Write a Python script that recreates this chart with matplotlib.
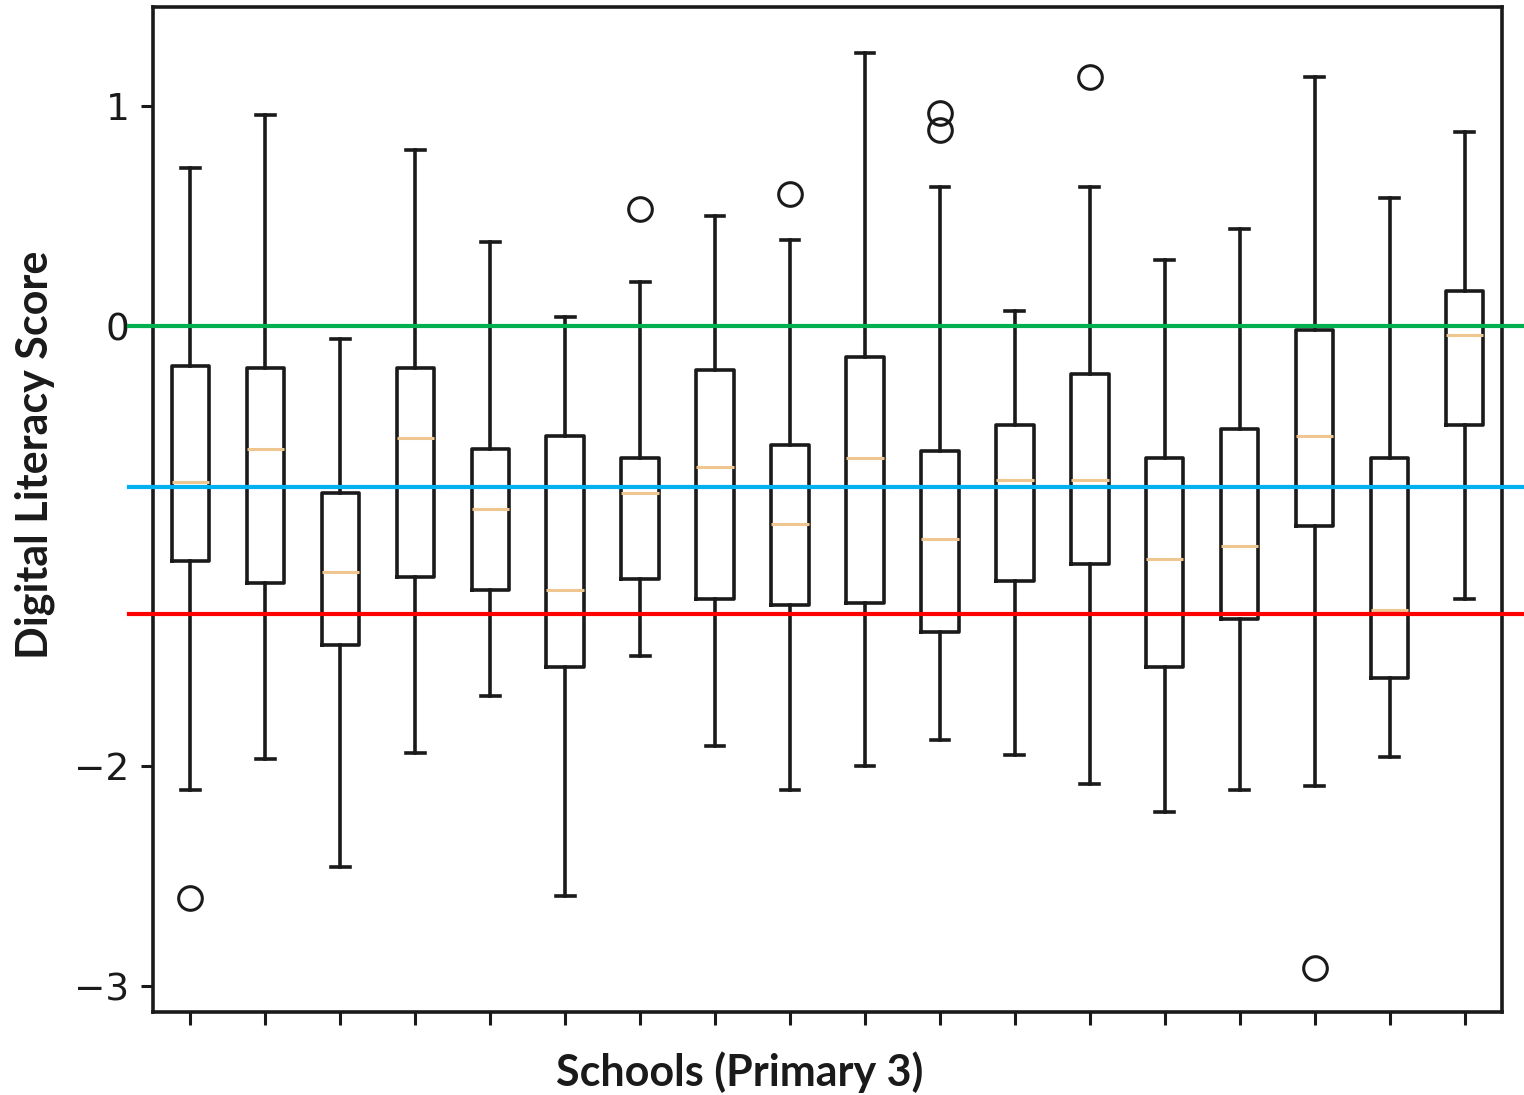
import matplotlib
matplotlib.use("Agg")
import matplotlib.pyplot as plt

schools = list(range(1, 19))
whislo = [-2.11, -1.97, -2.46, -1.94, -1.68, -2.59, -1.50, -1.91, -2.11, -2.00,
          -1.88, -1.95, -2.08, -2.21, -2.11, -2.09, -1.96, -1.24]
q1 = [-1.07, -1.17, -1.45, -1.14, -1.20, -1.55, -1.15, -1.24, -1.27, -1.26,
      -1.39, -1.16, -1.08, -1.55, -1.33, -0.91, -1.60, -0.45]
med = [-0.71, -0.56, -1.12, -0.51, -0.83, -1.20, -0.76, -0.64, -0.90, -0.60,
       -0.97, -0.70, -0.70, -1.06, -1.00, -0.50, -1.29, -0.04]
q3 = [-0.18, -0.19, -0.76, -0.19, -0.56, -0.50, -0.60, -0.20, -0.54, -0.14,
      -0.57, -0.45, -0.22, -0.60, -0.47, -0.02, -0.60, 0.16]
whishi = [0.72, 0.96, -0.06, 0.80, 0.38, 0.04, 0.20, 0.50, 0.39, 1.24,
          0.63, 0.07, 0.63, 0.30, 0.44, 1.13, 0.58, 0.88]
fliers = [[-2.60], [], [], [], [], [], [0.53], [], [0.60], [],
          [0.97, 0.89], [], [1.13], [], [], [-2.92], [], []]

ref_values = [0.0, -0.73, -1.31]
ref_colors = ['#00b050', '#00b0f0', '#ff0000']

stats = []
for i in range(len(schools)):
    stats.append(dict(whislo=whislo[i], q1=q1[i], med=med[i], q3=q3[i],
                      whishi=whishi[i], fliers=fliers[i]))

fig = plt.figure(figsize=(15.24, 10.95), dpi=100)
ax = fig.add_axes([153/1524, 1 - 1012/1095, (1502-153)/1524, (1012-7)/1095])

lw = 2.6
ax.bxp(stats, positions=schools, widths=0.5, showfliers=True,
       boxprops=dict(color='#1a1a1a', linewidth=lw),
       whiskerprops=dict(color='#1a1a1a', linewidth=lw),
       capprops=dict(color='#1a1a1a', linewidth=lw),
       medianprops=dict(color='#f0c690', linewidth=2.2),
       flierprops=dict(marker='o', markerfacecolor='none', markeredgecolor='#1a1a1a',
                       markersize=17, markeredgewidth=2.2))

x0 = (129 - 153) / 1349
x1 = (1524 - 153) / 1349
for v, c in zip(ref_values, ref_colors):
    ax.axhline(v, xmin=x0, xmax=x1, color=c, linewidth=3.0, clip_on=False, zorder=5)

ax.set_xlim(0.5, 18.5)
ax.set_ylim(-3.118, 1.45)
ax.set_yticks([1, 0, -2, -3])
ax.set_yticklabels(['1', '0', '\u22122', '\u22123'])
ax.set_xticks(schools)
ax.set_xticklabels([''] * len(schools))
ax.tick_params(axis='both', labelsize=27, length=9, width=2.2, color='#1a1a1a', pad=8,
               labelcolor='#1a1a1a')
for sp in ax.spines.values():
    sp.set_linewidth(2.6)
    sp.set_color('#1a1a1a')

fig.text(740/1524, 1 - 1072/1095, 'Schools (Primary 3)', ha='center', va='center',
         fontsize=31, fontweight='bold', family=['Lato', 'DejaVu Sans'], color='#1a1a1a')
fig.text(35/1524, 1 - 455/1095, 'Digital Literacy Score', ha='center', va='center',
         rotation=90, fontsize=31, fontweight='bold', family=['Lato', 'DejaVu Sans'],
         color='#1a1a1a')

fig.savefig('out.png', dpi=100)
